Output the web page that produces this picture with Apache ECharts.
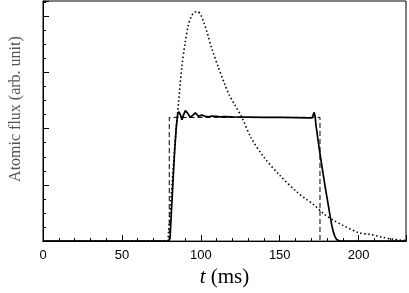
<!DOCTYPE html>
<html>
<head>
<meta charset="utf-8">
<script src="https://cdn.jsdelivr.net/npm/echarts@6/dist/echarts.min.js"></script>
<style>html,body{margin:0;padding:0;background:#fff}#c{width:409px;height:293px}</style>
</head>
<body>
<div id="c"></div>
<script>
// Measured atomic flux (solid): [t (ms), flux]
const measured = [[0,0],[79.5,0],[80.5,0.05],[81.5,0.6],[82.5,1.13],[83.5,1.65],[84.5,2.05],[85.3,2.25],[86,2.3],[87,2.25],[88,2.16],[89,2.24],[90.2,2.32],[91.5,2.28],[93.3,2.2],[95,2.24],[96.5,2.28],[97.5,2.25],[98.5,2.22],[99.5,2.21],[100.6,2.24],[101.8,2.21],[102.8,2.22],[103.8,2.23],[105,2.21],[106,2.22],[107,2.225],[108,2.21],[110,2.22],[112,2.21],[115,2.215],[120,2.21],[130,2.205],[140,2.2],[150,2.2],[160,2.195],[168,2.19],[170.5,2.19],[171.8,2.29],[172.4,2.22],[173,2.05],[175,1.65],[177,1.28],[179,0.93],[181,0.6],[182,0.43],[183,0.28],[184,0.16],[185,0.08],[186,0.03],[188,0],[230,0]];
// Ideal square pulse (dashed)
const pulse = [[80,0],[80,2.2],[175.5,2.2],[175.5,0]];
// Unshaped pulse (dotted)
const unshaped = [[0,0],[78.5,0],[79.5,0.15],[80.5,0.5],[82,1.1],[84,1.85],[86,2.5],[88,3.1],[90,3.52],[92,3.83],[94,4.0],[96,4.07],[98,4.08],[100,4.02],[102,3.88],[104,3.71],[107,3.42],[111,3.1],[115,2.8],[118,2.6],[122,2.4],[126,2.2],[132,1.83],[140,1.49],[150,1.17],[161,0.87],[166,0.76],[171.5,0.65],[177.7,0.49],[184,0.37],[190,0.28],[200,0.15],[207,0.12],[215,0.07],[222,0.03],[230,0.01]];
const xTickLabels = ['0','50','100','150','200'];

const chart = echarts.init(document.getElementById('c'), null, {renderer:'canvas'});
const axisBase = {min:0, axisLine:{show:true, onZero:false, lineStyle:{color:'#000', width:1}}, splitLine:{show:false}};
chart.setOption({
  animation:false,
  backgroundColor:'#fff',
  grid:{left:39, right:1, top:1, bottom:48, show:true, borderColor:'#000', borderWidth:1, containLabel:false},
  xAxis:[
    Object.assign({}, axisBase, {type:'value', max:230, interval:10, position:'bottom',
      axisTick:{inside:true, length:3, lineStyle:{color:'#000'}}, axisLabel:{show:false}}),
    Object.assign({}, axisBase, {type:'value', max:230, interval:50, position:'bottom', offset:0,
      axisTick:{inside:true, length:6, lineStyle:{color:'#000'}},
      axisLabel:{show:true, margin:8, color:'#000', fontFamily:'Liberation Sans', fontSize:13,
        formatter:v => xTickLabels.includes(String(v)) ? String(v) : ''},
      name:'{i|t} (ms)', nameLocation:'middle', nameGap:24,
      nameTextStyle:{fontFamily:'Liberation Serif', fontSize:21, color:'#000',
        rich:{i:{fontFamily:'Liberation Serif', fontStyle:'italic', fontSize:21, color:'#000'}}}})
  ],
  yAxis:[
    Object.assign({}, axisBase, {type:'value', max:4.27, interval:0.25, position:'left',
      axisTick:{inside:true, length:3, lineStyle:{color:'#000'}}, axisLabel:{show:false}}),
    Object.assign({}, axisBase, {type:'value', max:4.27, interval:1, position:'left', offset:0,
      axisTick:{inside:true, length:6, lineStyle:{color:'#000'}}, axisLabel:{show:false},
      name:'Atomic flux (arb. unit)', nameLocation:'middle', nameGap:19,
      nameTextStyle:{fontFamily:'Liberation Serif', fontSize:16, color:'#555', padding:[0,0,0,24]}})
  ],
  series:[
    {type:'line', data:unshaped, xAxisIndex:0, yAxisIndex:0, showSymbol:false, smooth:0.3,
      lineStyle:{color:'#000', width:1.6, type:[1.5,2.5]}},
    {type:'line', data:pulse, xAxisIndex:0, yAxisIndex:0, showSymbol:false,
      lineStyle:{color:'#000', width:1, type:[5,3]}},
    {type:'line', data:measured, xAxisIndex:0, yAxisIndex:0, showSymbol:false,
      lineStyle:{color:'#000', width:1.7}}
  ]
});
</script>
</body>
</html>
